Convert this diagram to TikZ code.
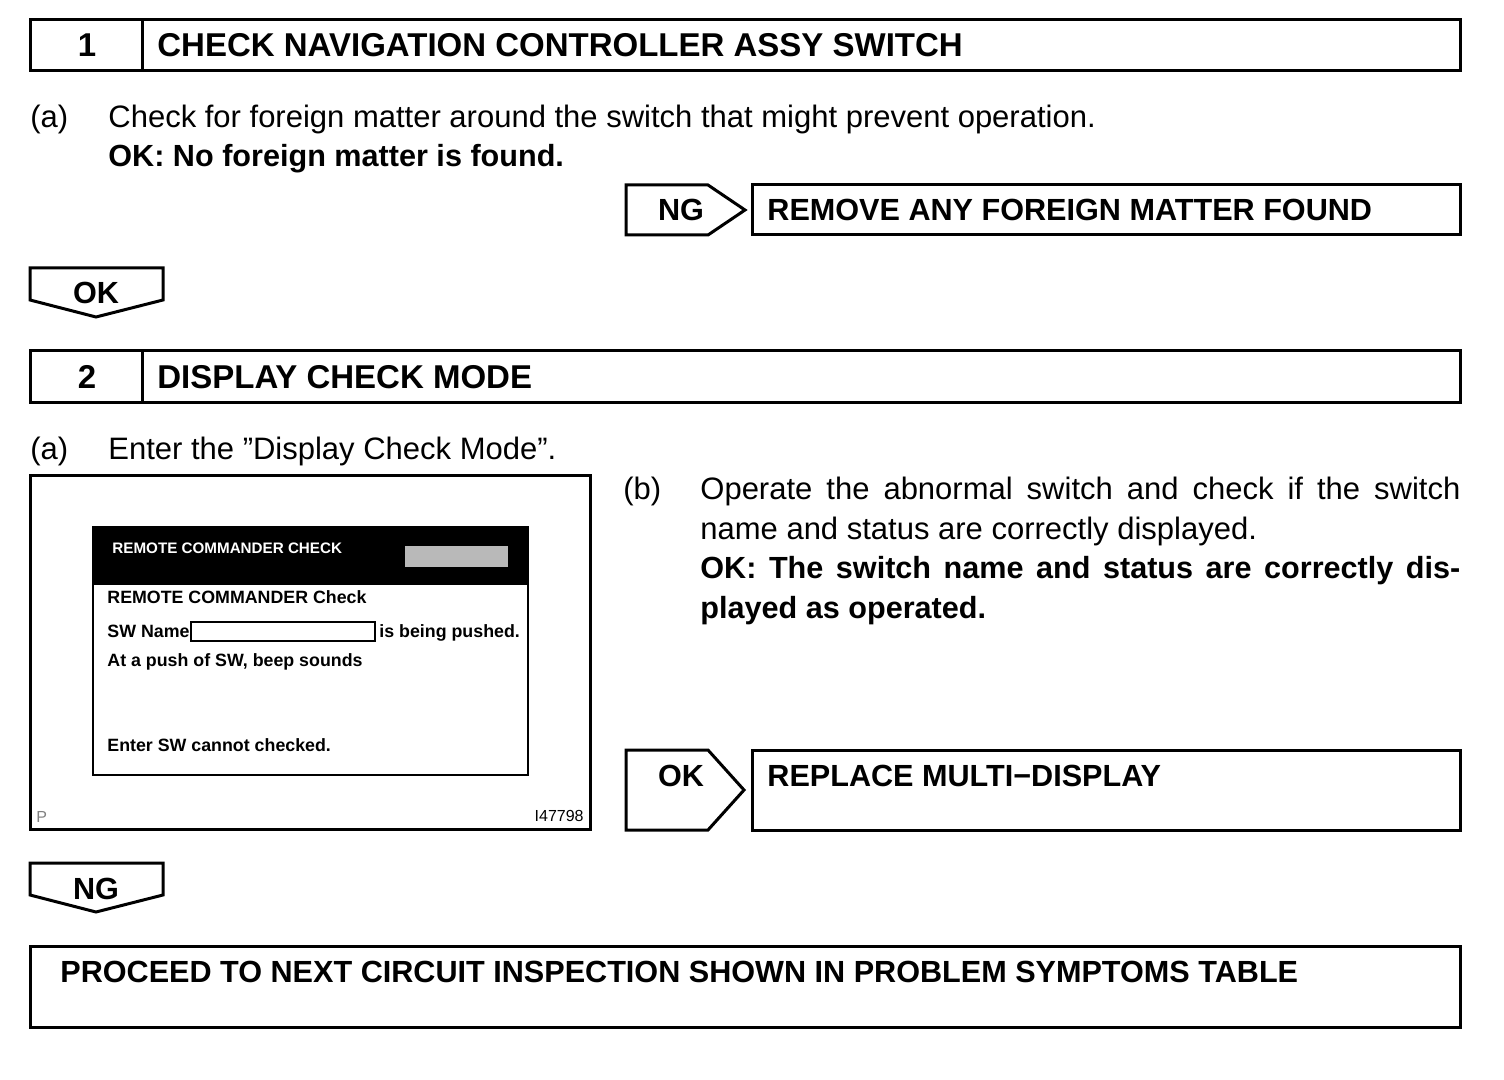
\documentclass[tikz,border=0pt]{standalone}
\usepackage{fontspec}
\setmainfont{Liberation Sans}
\usetikzlibrary{positioning}

\begin{document}
\begin{tikzpicture}[
        x=0.5pt, y=-0.5pt,
        frame/.style={draw=black, line width=1.5pt},
        head/.style={font=\fontsize{16.5}{18}\selectfont\bfseries, inner sep=0pt, anchor=base west},
        boxtext/.style={font=\fontsize{15.3}{18}\selectfont\bfseries, inner sep=0pt, anchor=base west},
        body/.style={font=\fontsize{15.5}{18}\selectfont, inner sep=0pt, anchor=base west},
        bodybold/.style={font=\fontsize{15.3}{18}\selectfont\bfseries, inner sep=0pt, anchor=base west},
        scr/.style={font=\fontsize{8.9}{10}\selectfont\bfseries, inner sep=0pt, anchor=base west},
        tag/.style={draw=black, line width=1.5pt, fill=white, line join=miter}
    ]

    \useasboundingbox (0,0) rectangle (1504,1080);

    % step 1
    \draw [frame] (30,20) rectangle (1460,71);
    \draw [frame] (142,20) -- (142,71);
    \node (num1) [head, anchor=base] at (87,57) {1};
    \node (title1) [head] at (157,57) {CHECK NAVIGATION CONTROLLER ASSY SWITCH};
    \node (a1) [body] at (30,128) {(a)};
    \node (check1) [body] at (108,128) {Check for foreign matter around the switch that might prevent operation.};
    \node (ok1) [bodybold] at (108,167) {OK: No foreign matter is found.};

    % NG -> remove
    \draw [tag] (626,185) -- (708,185) -- (745,210) -- (708,235) -- (626,235) -- cycle;
    \node (ng1) [boxtext, anchor=base] at (681,221) {NG};
    \draw [frame] (752,185) rectangle (1460,235);
    \node (remove) [boxtext] at (767,221) {REMOVE ANY FOREIGN MATTER FOUND};

    % OK down
    \draw [tag] (30,268) -- (163,268) -- (163,300) -- (96,317) -- (30,300) -- cycle;
    \node (okdown) [boxtext, anchor=base] at (96,304) {OK};

    % step 2
    \draw [frame] (30,351) rectangle (1460,403);
    \draw [frame] (142,351) -- (142,403);
    \node (num2) [head, anchor=base] at (87,389) {2};
    \node (title2) [head] at (157,389) {DISPLAY CHECK MODE};
    \node (a2) [body] at (30,459) {(a)};
    \node (enter) [body] at (108,459) {Enter the ”Display Check Mode”.};

    % screen picture
    \draw [frame] (30,475) rectangle (590,829);
    \draw [draw=black, line width=1pt] (93,527) rectangle (528,775);
    \fill [black] (93,527) rectangle (528,585);
    \fill [gray!55] (405,546) rectangle (508,567);
    \node (scrtitle) [scr, text=white, font=\fontsize{7.6}{9}\selectfont\bfseries] at (112,553) {REMOTE COMMANDER CHECK};
    \node (scrhead) [scr] at (107,603) {REMOTE COMMANDER Check};
    \node (swname) [scr] at (107,637) {SW Name};
    \draw [line width=1pt] (191,622) rectangle (375,641);
    \node (pushed) [scr] at (379,637) {is being pushed.};
    \node (beep) [scr] at (107,666) {At a push of SW, beep sounds};
    \node (enter-sw) [scr] at (107,751) {Enter SW cannot checked.};
    \node (pmark) [scr, font=\fontsize{8}{9}\selectfont, text=gray] at (36,822) {P};
    \node (illno) [scr, font=\fontsize{8}{9}\selectfont, anchor=base east] at (584,821) {I47798};

    % (b)
    \node (b2) [body] at (623,499) {(b)};
    \node (op1) [body] at (700,499) {\makebox[380pt][s]{Operate the abnormal switch and check if the switch}};
    \node (op2) [body] at (700,539) {name and status are correctly displayed.};
    \node (ok2a) [bodybold] at (700,578) {\makebox[380pt][s]{OK: The switch name and status are correctly dis-}};
    \node (ok2b) [bodybold] at (700,618) {played as operated.};

    % OK -> replace
    \draw [tag] (626,750) -- (708,750) -- (744,790) -- (708,830) -- (626,830) -- cycle;
    \node (ok2) [boxtext, anchor=base] at (681,786) {OK};
    \draw [frame] (752,750) rectangle (1460,830);
    \node (replace) [boxtext] at (767,786) {REPLACE MULTI−DISPLAY};

    % NG down
    \draw [tag] (30,863) -- (163,863) -- (163,895) -- (96,912) -- (30,895) -- cycle;
    \node (ngdown) [boxtext, anchor=base] at (96,899) {NG};

    % last box
    \draw [frame] (30,946) rectangle (1460,1027);
    \node (proceed) [boxtext] at (60,982) {PROCEED TO NEXT CIRCUIT INSPECTION SHOWN IN PROBLEM SYMPTOMS TABLE};

\end{tikzpicture}
\end{document}
